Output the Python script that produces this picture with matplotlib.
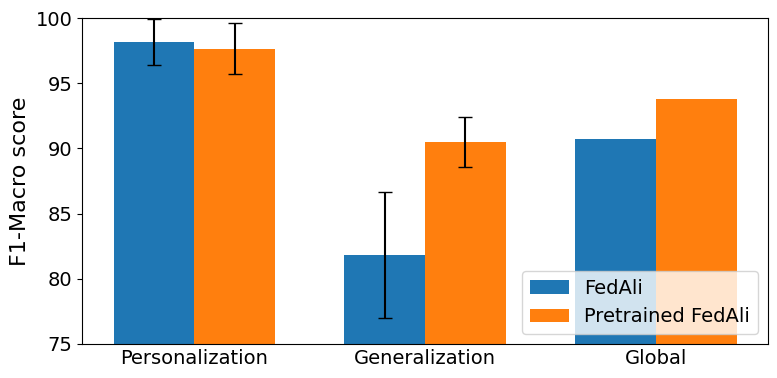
import numpy as np
import matplotlib.pyplot as plt

categories = ['Personalization', 'Generalization', 'Global']
fedali_mean = [98.15, 81.8, 90.72]
fedali_std = [1.77, 4.83, 0.0]
pre_mean = [97.65, 90.48, 93.79]
pre_std = [1.94, 1.93, 0.0]

x = np.arange(len(categories))
width = 0.35

fig, ax = plt.subplots(figsize=(7.77, 3.78), dpi=100)
ax.bar(x - width / 2, fedali_mean, width, yerr=[s if s else np.nan for s in fedali_std],
       capsize=5, color='#1f77b4', label='FedAli', error_kw=dict(ecolor='black', lw=1.5))
ax.bar(x + width / 2, pre_mean, width, yerr=[s if s else np.nan for s in pre_std],
       capsize=5, color='#ff7f0e', label='Pretrained FedAli', error_kw=dict(ecolor='black', lw=1.5))
ax.set_ylim(75, 100)
ax.set_xticks(x)
ax.set_xticklabels(categories, fontsize=14)
ax.tick_params(axis='x', length=0)
ax.tick_params(axis='y', labelsize=14)
ax.set_ylabel('F1-Macro score', fontsize=16)
ax.legend(loc='lower right', fontsize=14)
fig.subplots_adjust(left=0.106, right=0.988, top=0.952, bottom=0.09)
fig.savefig('out.png')
